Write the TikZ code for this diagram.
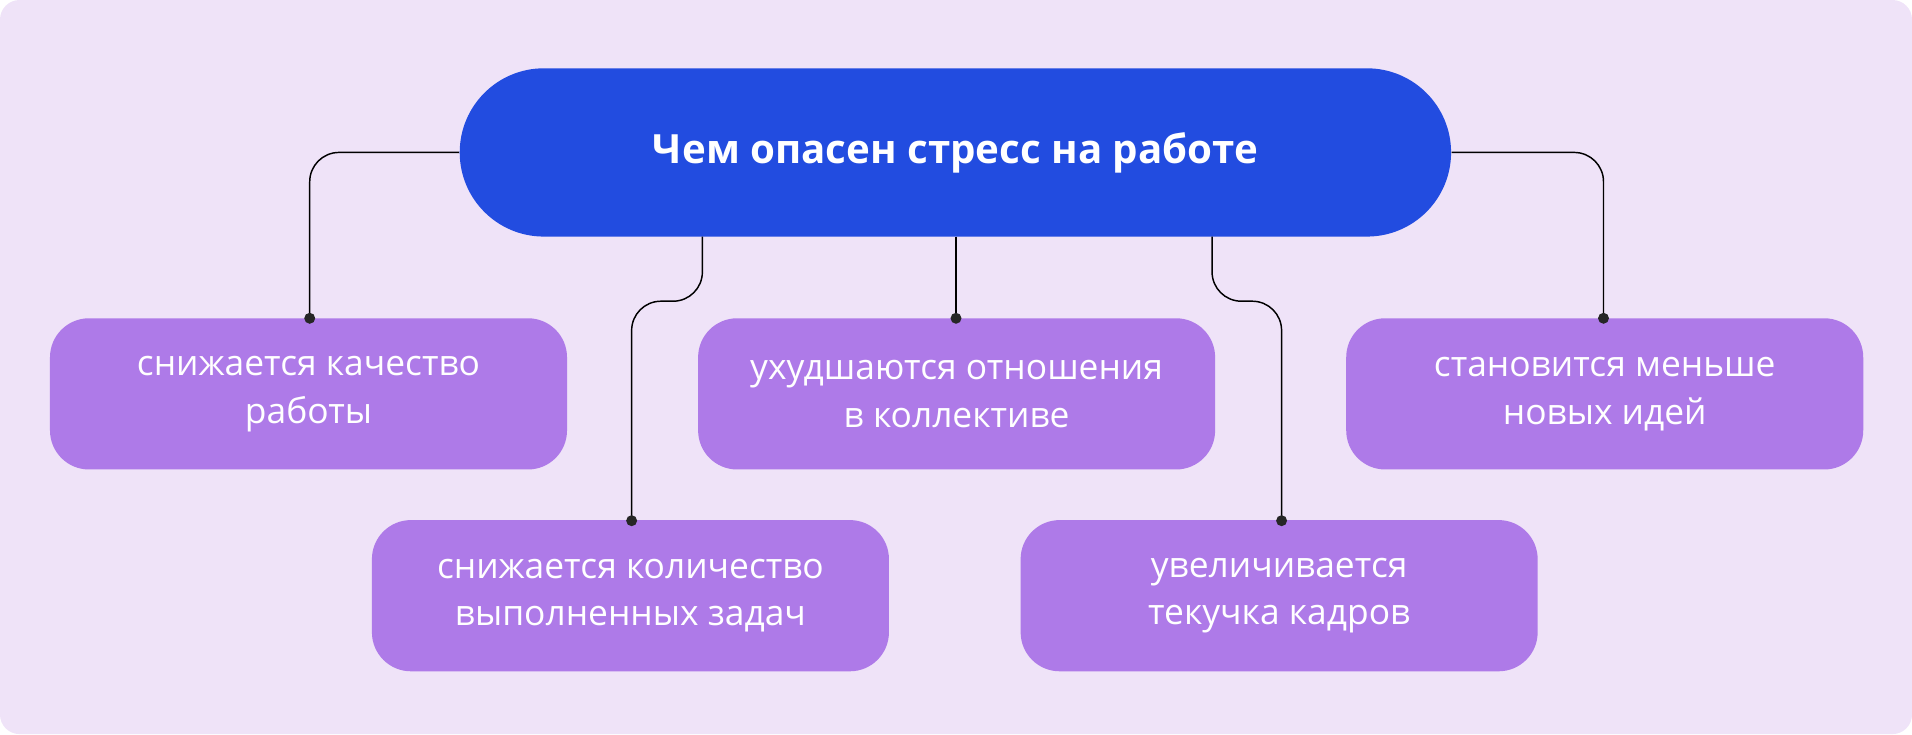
\documentclass[tikz,border=0pt]{standalone}
\usepackage{fontspec}
\setmainfont{Open Sans}
\definecolor{bg}{HTML}{EFE3F8}
\definecolor{topc}{HTML}{224CE0}
\definecolor{boxc}{HTML}{AE7AE8}
\begin{document}
\begin{tikzpicture}[x=0.5pt,y=-0.5pt,
  box/.style={fill=boxc,rounded corners=16pt,minimum width=212pt,minimum height=62pt,inner sep=0pt,text=white,align=center,font=\fontsize{14.5}{19.5}\selectfont},
  ln/.style={black,line width=0.6pt,rounded corners=12pt},
  dot/.style={circle,fill=black!85,inner sep=0pt,minimum size=4.5pt}]
\fill[bg,rounded corners=8pt] (0,0) rectangle (1568,602);
\useasboundingbox (0,0) rectangle (1568,602);
\node[fill=topc,rounded corners=34.5pt,minimum width=406.5pt,minimum height=69pt,text=white,font=\fontsize{16.5}{20}\selectfont\bfseries] (top) at (783.5,125) {Чем опасен стресс на работе};
\node[box] (b1) at (253,323) {снижается качество\\работы};
\node[box] (b2) at (784.5,323) {ухудшаются отношения\\в коллективе};
\node[box] (b3) at (1316,323) {становится меньше\\новых идей};
\node[box] (b4) at (517,488.5) {снижается количество\\выполненных задач};
\node[box] (b5) at (1049,488.5) {увеличивается\\текучка кадров};
\coordinate (d1) at (254,261); \coordinate (d2) at (784,261); \coordinate (d3) at (1315,261);
\coordinate (d4) at (518,427); \coordinate (d5) at (1051,427);
\draw[ln] (top.west) -| (d1);
\draw[ln] (top.east) -| (d3);
\draw[ln] (784,194) -- (d2);
\draw[ln] (576,194) -- (576,247) -- (518,247) -- (d4);
\draw[ln] (994,194) -- (994,247) -- (1051,247) -- (d5);
\foreach \d in {d1,d2,d3,d4,d5} \node[dot] at (\d) {};
\end{tikzpicture}
\end{document}
